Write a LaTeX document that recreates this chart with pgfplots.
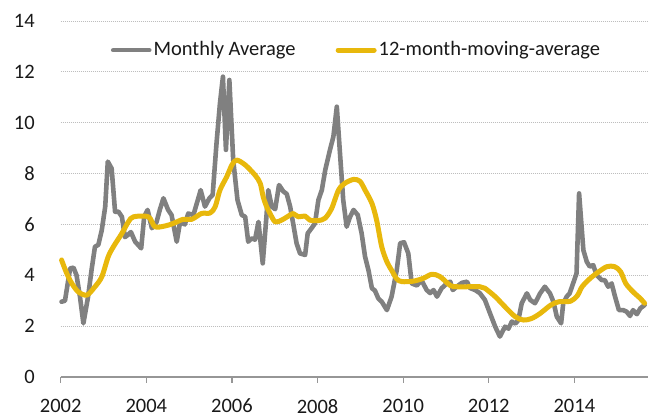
\documentclass[border=0pt]{standalone}
\usepackage{pgfplots}
\pgfplotsset{compat=1.18}
\usepackage{fontspec}
\setmainfont{Carlito}
\definecolor{mgray}{RGB}{128,128,128}
\definecolor{myel}{RGB}{232,184,12}
\definecolor{gridc}{RGB}{190,190,190}
\definecolor{axc}{RGB}{150,150,150}
\definecolor{txt}{RGB}{25,25,25}
\begin{document}
\begin{tikzpicture}
\fontsize{20.5}{24}\selectfont
\begin{axis}[
  name=ax,
  scale only axis,
  width=587.3pt, height=356pt,
  xmin=2002, xmax=2015.72,
  ymin=0, ymax=14,
  xtick={2002,2004,2006,2008,2010,2012,2014},
  ytick={0,2,4,6,8,10,12,14},
  /pgf/number format/assume math mode=true,
  x tick label style={/pgf/number format/1000 sep=, font=\fontsize{20.5}{24}\selectfont, text=txt, yshift=-9pt},
  y tick label style={font=\fontsize{20.5}{24}\selectfont, text=txt, xshift=-13pt},
  axis x line*=bottom,
  axis y line*=left,
  x axis line style={axc, line width=1.6pt, -},
  y axis line style={draw=none},
  xtick style={axc, line width=1.2pt},
  ytick style={draw=none},
  tick align=outside,
  major tick length=6pt,
  ymajorgrids, grid style={gridc, line width=0.8pt, dash pattern=on 1pt off 1pt},
  clip=false,
  legend style={at={(rel axis cs:0.5037,0.918)}, anchor=center, draw=none, fill=none,
    font=\fontsize{20.5}{24}\selectfont, text=txt,
    /tikz/every even column/.append style={column sep=38pt}},
  legend columns=2,
  legend cell align=left,
  legend image code/.code={\draw[#1] (0pt,0pt) -- (36pt,0pt);},
]
\addplot[mgray, line width=4.6pt, line join=round, line cap=round] coordinates {
(2002.02,2.96)(2002.10,3.0)(2002.22,4.27)(2002.30,4.3)(2002.37,4.0)(2002.45,3.16)(2002.53,2.11)
(2002.64,3.16)(2002.72,4.2)(2002.80,5.12)(2002.88,5.2)(2002.96,5.78)(2003.04,6.7)(2003.10,8.47)
(2003.19,8.2)(2003.27,6.5)(2003.35,6.5)(2003.43,6.3)(2003.50,5.5)(2003.58,5.6)(2003.64,5.7)
(2003.74,5.32)(2003.88,5.06)(2003.95,6.3)(2004.03,6.57)(2004.13,5.85)(2004.24,6.1)(2004.32,6.6)
(2004.40,7.03)(2004.51,6.57)(2004.59,6.37)(2004.71,5.32)(2004.79,6.1)(2004.90,6.0)(2004.98,6.43)
(2005.10,6.37)(2005.18,6.83)(2005.27,7.35)(2005.37,6.7)(2005.47,7.02)(2005.55,7.16)(2005.64,9.19)
(2005.72,10.76)(2005.79,11.81)(2005.86,8.93)(2005.94,11.68)(2006.03,8.53)(2006.13,6.96)(2006.23,6.37)
(2006.31,6.3)(2006.38,5.32)(2006.46,5.45)(2006.54,5.4)(2006.62,6.1)(2006.72,4.47)(2006.81,6.4)
(2006.85,7.35)(2006.93,6.7)(2007.01,6.6)(2007.10,7.55)(2007.20,7.3)(2007.28,7.2)(2007.36,6.7)
(2007.43,6.04)(2007.51,5.26)(2007.59,4.86)(2007.71,4.8)(2007.77,5.65)(2007.86,5.85)(2007.94,6.04)
(2008.02,6.96)(2008.10,7.35)(2008.18,8.14)(2008.29,8.93)(2008.37,9.45)(2008.45,10.63)(2008.53,8.66)
(2008.60,6.96)(2008.68,5.91)(2008.76,6.3)(2008.84,6.57)(2008.94,6.37)(2009.03,5.65)(2009.11,4.73)
(2009.19,4.2)(2009.27,3.49)(2009.34,3.4)(2009.42,3.09)(2009.50,2.96)(2009.62,2.63)(2009.73,3.16)
(2009.85,4.2)(2009.93,5.26)(2010.02,5.3)(2010.12,4.86)(2010.20,3.68)(2010.32,3.6)(2010.43,3.8)
(2010.55,3.42)(2010.63,3.3)(2010.71,3.42)(2010.79,3.16)(2010.90,3.49)(2011.02,3.68)(2011.10,3.75)
(2011.16,3.42)(2011.25,3.55)(2011.37,3.7)(2011.49,3.75)(2011.56,3.5)(2011.68,3.42)(2011.79,3.3)
(2011.91,3.03)(2012.03,2.5)(2012.15,1.98)(2012.26,1.59)(2012.38,1.98)(2012.46,1.9)(2012.54,2.18)
(2012.62,2.1)(2012.69,2.23)(2012.77,2.9)(2012.89,3.29)(2012.97,3.03)(2013.08,2.9)(2013.20,3.29)
(2013.31,3.55)(2013.43,3.29)(2013.51,2.96)(2013.59,2.37)(2013.69,2.11)(2013.74,2.9)(2013.82,3.16)
(2013.89,3.29)(2013.97,3.68)(2014.05,4.07)(2014.11,7.22)(2014.21,4.99)(2014.29,4.53)(2014.36,4.34)
(2014.44,4.4)(2014.52,4.01)(2014.64,3.81)(2014.71,3.81)(2014.79,3.55)(2014.87,3.68)(2014.95,3.16)
(2015.04,2.63)(2015.14,2.63)(2015.22,2.57)(2015.30,2.4)(2015.37,2.63)(2015.46,2.47)(2015.54,2.7)
(2015.64,2.83)
};
\addlegendentry{Monthly Average}
\addplot[myel, line width=5pt, line join=round, line cap=round, smooth, tension=0.5] coordinates {
(2002.02,4.6)(2002.14,4.08)(2002.26,3.68)(2002.41,3.35)(2002.61,3.22)(2002.80,3.55)(2002.96,3.94)
(2003.11,4.73)(2003.23,5.12)(2003.43,5.65)(2003.58,6.1)(2003.70,6.3)(2004.05,6.3)(2004.20,5.91)
(2004.44,5.94)(2004.63,6.04)(2004.86,6.2)(2005.06,6.2)(2005.29,6.43)(2005.49,6.45)(2005.61,6.7)
(2005.72,7.35)(2005.88,7.88)(2006.00,8.34)(2006.11,8.53)(2006.31,8.34)(2006.54,7.94)(2006.66,7.62)
(2006.73,7.09)(2006.81,6.7)(2006.89,6.43)(2007.01,6.1)(2007.16,6.17)(2007.32,6.33)(2007.43,6.43)
(2007.55,6.3)(2007.71,6.33)(2007.82,6.17)(2008.02,6.15)(2008.18,6.25)(2008.33,6.63)(2008.49,7.35)
(2008.64,7.62)(2008.84,7.77)(2008.99,7.7)(2009.11,7.35)(2009.27,6.83)(2009.38,6.17)(2009.50,5.12)
(2009.62,4.53)(2009.73,4.2)(2009.85,3.86)(2009.97,3.75)(2010.24,3.77)(2010.47,3.88)(2010.67,4.04)
(2010.86,3.95)(2011.10,3.6)(2011.25,3.55)(2011.56,3.55)(2011.79,3.55)(2011.91,3.49)(2012.15,3.16)
(2012.38,2.76)(2012.62,2.37)(2012.81,2.24)(2013.00,2.3)(2013.20,2.5)(2013.45,2.83)(2013.64,2.96)
(2013.91,2.98)(2014.07,3.2)(2014.18,3.55)(2014.37,3.88)(2014.57,4.14)(2014.76,4.34)(2014.94,4.34)
(2015.08,4.14)(2015.20,3.68)(2015.37,3.35)(2015.54,3.09)(2015.64,2.9)
};
\addlegendentry{12-month-moving-average}
\end{axis}
\pgfresetboundingbox
\path[use as bounding box] ([xshift=-60.7pt,yshift=-42pt]ax.south west) rectangle ([xshift=1pt,yshift=21pt]ax.north east);
\end{tikzpicture}
\end{document}
